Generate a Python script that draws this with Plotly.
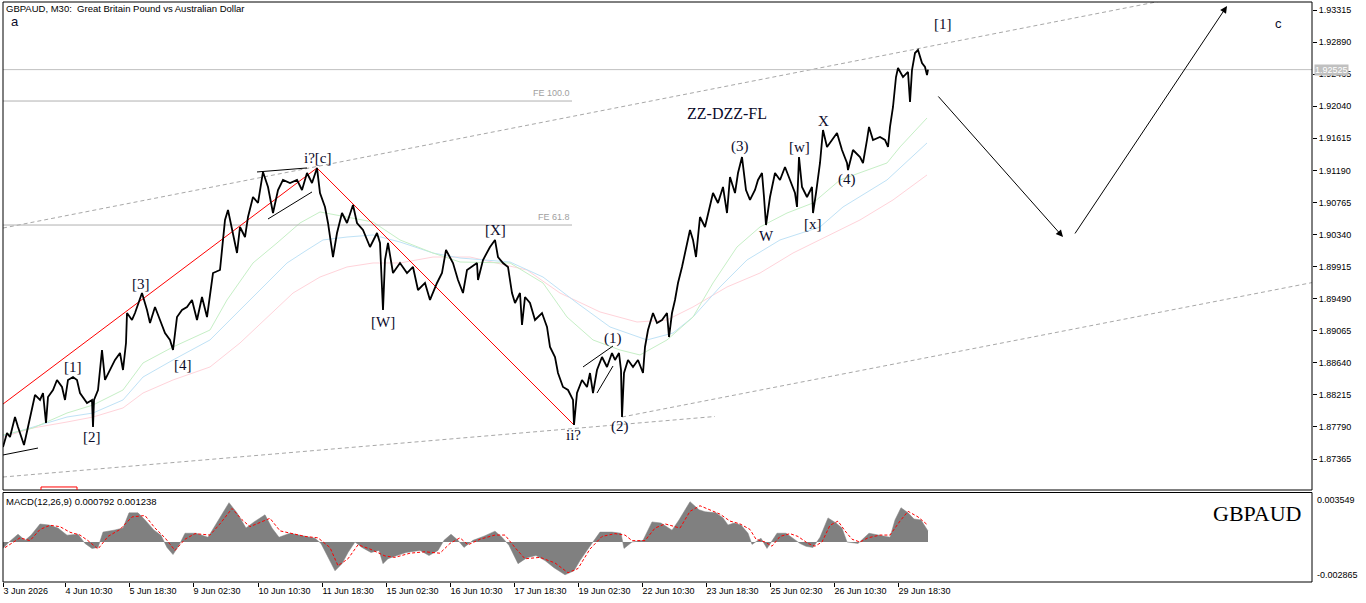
import plotly.graph_objects as go

# ---------------- data (bar index, prices) ----------------
bar_idx = [0,4,7,12,15,17,21,25,29,32,37,40,43,45,50,54,59,62,65,70,74,77,84,89,90,91,95,99,102,107,
           112,117,120,123,124,129,132,139,144,147,152,157,162,167,170,174,179,184,189,194,199,204,207,210,217,220,222,225,229,234,
           237,242,245,250,255,260,265,270,275,280,287,294,299,304,309,314,317,322,325,330,334,339,344,350,354,360,367,374,377,380,
           382,385,390,397,404,410,415,422,427,434,439,443,450,455,460,464,474,475,480,487,492,495,500,505,509,512,517,519,522,527,
           532,539,544,547,552,555,560,565,570,571,574,579,584,587,590,594,599,604,609,612,616,618,619,621,625,630,635,640,642,645,
           650,654,659,664,666,669,672,675,679,682,687,690,693,697,702,706,710,715,720,724,727,732,735,739,743,747,752,755,759,761,
           763,767,772,777,782,787,792,794,796,799,804,809,810,813,817,820,824,829,834,839,844,845,850,857,860,864,866,870,877,882,
           885,887,890,893,895,900,905,907,909,912,915,919,922,924,925]
close = [1.87525,1.87710,1.87657,1.87922,1.87790,1.87710,1.87551,1.87790,1.88055,1.88214,1.88148,1.88240,1.87843,1.88187,1.88280,1.88413,1.88320,1.88148,1.88413,1.88452,
         1.88413,1.88240,1.88108,1.88148,1.87790,1.88148,1.88280,1.88810,1.88413,1.88545,1.88678,1.88770,1.88545,1.88903,1.89300,1.89208,1.89300,1.89565,1.89340,1.89168,
         1.89380,1.89208,1.89035,1.88943,1.88810,1.89247,1.89340,1.89380,1.89473,1.89208,1.89512,1.89247,1.89512,1.89830,1.89870,1.90228,1.90533,1.90665,1.90400,1.90095,
         1.90440,1.90307,1.90572,1.90837,1.90758,1.91169,1.90970,1.90625,1.90930,1.91063,1.91023,1.91063,1.90930,1.91155,1.91023,1.91222,1.90890,1.90705,1.90493,1.90042,
         1.90360,1.90625,1.90493,1.90731,1.90493,1.90400,1.90175,1.90360,1.90228,1.89340,1.90003,1.90228,1.89830,1.89963,1.89830,1.89910,1.89605,1.89698,1.89473,1.89698,
         1.89830,1.90135,1.89963,1.89738,1.89565,1.89870,1.89963,1.89738,1.90003,1.90175,1.90268,1.90042,1.89963,1.89910,1.89565,1.89433,1.89565,1.89141,1.89512,1.89433,
         1.89208,1.89300,1.89115,1.88850,1.88717,1.88505,1.88320,1.88280,1.88148,1.87816,1.88240,1.88413,1.88320,1.88505,1.88240,1.88545,1.88717,1.88585,1.88770,1.88678,
         1.88770,1.88545,1.87922,1.88505,1.88678,1.88585,1.88678,1.88505,1.88850,1.89075,1.89300,1.89168,1.89208,1.89300,1.88982,1.89300,1.89473,1.89698,1.89910,1.90095,
         1.90400,1.90268,1.90042,1.90572,1.90440,1.90665,1.90890,1.90758,1.90970,1.90625,1.91102,1.90890,1.91155,1.91367,1.90930,1.90798,1.90930,1.91063,1.91155,1.90837,
         1.90466,1.90837,1.91155,1.91063,1.91235,1.91063,1.90890,1.90705,1.91367,1.90970,1.90837,1.90970,1.90625,1.90890,1.91288,1.91725,1.91500,1.91593,1.91685,1.91460,
         1.91288,1.91195,1.91460,1.91367,1.91288,1.91593,1.91765,1.91593,1.91632,1.91593,1.91500,1.91765,1.92030,1.92427,1.92547,1.92427,1.92494,1.92096,1.92520,1.92745,
         1.92785,1.92613,1.92560,1.92454,1.92525]
assert len(bar_idx) == len(close), (len(bar_idx), len(close))

green_idx = [0,30,64,90,120,140,170,207,224,250,274,297,317,344,370,397,430,457,507,540,564,590,617,637,664,690,710,734,757,784,810,837,857,884,897,924]
green_val = [1.87684,1.87777,1.87975,1.88081,1.88280,1.88638,1.88850,1.89075,1.89473,1.89963,1.90228,1.90493,1.90639,1.90572,1.90506,1.90268,1.90095,1.89976,
             1.89963,1.89698,1.89247,1.88943,1.88810,1.88744,1.88943,1.89247,1.89698,1.90175,1.90440,1.90625,1.90758,1.91063,1.91155,1.91288,1.91500,1.91884]
blue_idx = [0,30,64,90,120,140,170,207,230,257,284,304,320,344,370,397,430,457,507,540,574,607,644,670,690,717,744,777,817,840,884,924]
blue_val = [1.87671,1.87790,1.87922,1.87975,1.88148,1.88452,1.88678,1.88943,1.89247,1.89605,1.89963,1.90135,1.90268,1.90307,1.90334,1.90241,
            1.90095,1.90029,1.89976,1.89777,1.89433,1.89115,1.88943,1.89035,1.89247,1.89645,1.90003,1.90268,1.90440,1.90705,1.91063,1.91553]
pink_idx = [0,30,64,90,120,140,170,207,237,264,290,317,344,370,397,430,467,524,557,597,634,664,690,724,757,790,817,857,890,924]
pink_val = [1.87657,1.87777,1.87856,1.87922,1.88042,1.88240,1.88413,1.88585,1.88903,1.89247,1.89565,1.89777,1.89910,1.89963,1.89963,
            1.90042,1.90042,1.89870,1.89565,1.89314,1.89181,1.89208,1.89380,1.89645,1.89830,1.90095,1.90268,1.90533,1.90798,1.91129]

macd_idx = [0,6,15,22,28,37,46,55,64,75,82,89,95,100,111,120,126,135,142,151,158,164,170,176,182,193,205,214,220,226,234,243,251,262,269,276,287,301,312,318,
            325,332,339,345,352,359,368,376,380,385,394,403,417,426,435,441,448,455,461,470,481,492,499,506,515,524,533,542,551,562,571,577,586,597,609,618,621,629,640,649,
            658,669,676,687,696,702,713,720,725,731,738,745,749,758,764,774,783,792,797,803,810,817,825,833,839,844,855,866,878,887,892,898,905,911,918,925]
macd_val = [-0.00046,0.0,0.00056,0.00012,0.00049,0.00129,0.00122,0.00100,0.00049,0.00056,-0.00010,-0.00046,-0.00039,0.00071,0.00085,0.00100,0.00209,0.00209,0.00158,0.00085,
            0.00049,-0.00039,-0.00090,-0.00024,0.00063,0.00063,0.00034,0.00136,0.00209,0.00282,0.00209,0.00100,0.00144,0.00195,0.00100,0.00034,0.00063,0.00042,0.00027,-0.00010,
            -0.00112,-0.00206,-0.00155,-0.00075,0.0,-0.00039,-0.00075,-0.00060,-0.00155,-0.00119,-0.00097,-0.00075,-0.00060,-0.00097,-0.00060,0.00012,0.00056,0.00012,-0.00039,0.00012,
            0.00042,0.00078,0.00034,-0.00024,-0.00155,-0.00112,-0.00097,-0.00133,-0.00184,-0.00235,-0.00206,-0.00133,-0.00039,0.00071,0.00071,0.00063,-0.00046,0.0,0.00012,0.00144,
            0.00136,0.00085,0.00158,0.00289,0.00231,0.00217,0.00209,0.00173,0.00122,0.00136,0.00122,0.00063,-0.00017,0.00027,-0.00046,0.00063,0.00063,0.00012,-0.00010,-0.00031,
            -0.00039,0.00034,0.00173,0.00136,0.00100,0.0,-0.00010,0.00063,0.00049,0.00034,0.00158,0.00246,0.00209,0.00165,0.00158,0.00079]
assert len(macd_idx) == len(macd_val)
signal_idx = [2,17,27,37,47,57,67,77,85,95,105,117,129,142,152,162,172,182,192,207,217,229,239,247,257,267,277,289,302,315,327,335,345,355,367,382,392,407,422,437,
              447,457,465,477,492,502,512,522,537,552,565,575,587,599,612,622,629,642,652,662,677,687,697,707,717,727,737,747,753,762,769,777,787,795,805,812,819,827,835,842,
              849,857,865,877,887,897,905,915,925]
signal_val = [-0.0004,0.0003,0.0001,0.0009,0.0012,0.0011,0.0007,0.0005,0.0001,-0.0005,0.0004,0.0009,0.0018,0.0019,0.0010,0.0003,-0.0006,0.0002,0.0006,0.0005,
              0.0013,0.0024,0.0016,0.0011,0.0014,0.0017,0.0008,0.0006,0.0004,0.0003,-0.0004,-0.0017,-0.0012,-0.0002,-0.0005,-0.0010,-0.0011,-0.0008,-0.0007,-0.0008,
              -0.0001,0.0003,-0.0002,0.0002,0.0005,0.0005,-0.0004,-0.0012,-0.0011,-0.0015,-0.0022,-0.0019,-0.0005,0.0004,0.0006,0.0005,0.0001,0.0001,0.0010,0.0013,
              0.0010,0.0022,0.0026,0.0023,0.0020,0.0015,0.0013,0.0009,0.0002,0.0000,-0.0003,0.0004,0.0006,0.0004,-0.0001,-0.0003,0.0000,0.0012,0.0015,0.0008,
              0.0002,0.0000,0.0003,0.0005,0.0005,0.0015,0.0022,0.0018,0.0012]
assert len(signal_idx) == len(signal_val)

# axis ticks
x_tick_idx = [0,62,126,190,255,319,383,447,511,575,639,703,767,831,895]
x_tick_txt = ["3 Jun 2026","4 Jun 10:30","5 Jun 18:30","9 Jun 02:30","10 Jun 10:30","11 Jun 18:30","15 Jun 02:30",
              "16 Jun 10:30","17 Jun 18:30","19 Jun 02:30","22 Jun 10:30","23 Jun 18:30","25 Jun 02:30","26 Jun 10:30","29 Jun 18:30"]
y_tick_vals = [1.93315,1.92890,1.92465,1.92040,1.91615,1.91190,1.90765,1.90340,1.89915,1.89490,1.89065,1.88640,1.88215,1.87790,1.87365]
macd_max, macd_min = 0.003549, -0.002865
current_price = 1.92525

# analysis objects
red_path_idx = [0, 314, 571]
red_path_val = [1.88094, 1.91222, 1.87816]
upper_ch_idx, upper_ch_val = [0, 1309], [1.90426, 1.93826]
lower_ch_idx, lower_ch_val = [619, 1309], [1.87922, 1.89703]
short_ch_idx, short_ch_val = [0, 712], [1.87127, 1.87929]
fe_levels = [("FE 100.0", 1.92109), ("FE 61.8", 1.90466)]
fe_end_idx = 569
black_segments = [([0, 35], [1.87419, 1.87511]),
                  ([254, 304], [1.91169, 1.91222]),
                  ([265, 309], [1.90546, 1.90904]),
                  ([580, 610], [1.88585, 1.88863]),
                  ([594, 610], [1.88240, 1.88598])]
arrows = [((934, 1.92189), (1060, 1.90307)), ((1071, 1.90334), (1224, 1.93368))]
wave_labels = [("[1]", 70, 1.88585), ("[2]", 89, 1.87657), ("[3]", 138, 1.89685), ("[4]", 180, 1.88611),
               ("i?[c]", 314, 1.91354), ("[W]", 380, 1.89181), ("[X]", 492, 1.90400), ("ii?", 570, 1.87684),
               ("(1)", 610, 1.88969), ("(2)", 617, 1.87790), ("(3)", 737, 1.91513), ("W", 763, 1.90321),
               ("[w]", 796, 1.91500), ("[x]", 810, 1.90480), ("X", 820, 1.91844), ("(4)", 844, 1.91063),
               ("[1]", 940, 1.93130)]
pattern_label = ("ZZ-DZZ-FL", 724, 1.91950)
corner_labels = [("a", 12, 1.93169), ("c", 1275, 1.93130)]

# ---------------- figure ----------------
W, H = 1366, 603
top_px, bot_px, main_bot_px, macd_top_px = 2, 582, 490, 492.5
ph = bot_px - top_px
main_dom = [(bot_px - main_bot_px) / ph, 1.0]
macd_dom = [0.0, (bot_px - macd_top_px) / ph]

fig = go.Figure()
for xs, ys, col in [(pink_idx, pink_val, "#ffd3da"), (blue_idx, blue_val, "#bfe2f6"), (green_idx, green_val, "#c6efc6")]:
    fig.add_trace(go.Scatter(x=xs, y=ys, mode="lines", line=dict(color=col, width=1), hoverinfo="skip"))

for xs, ys in [(upper_ch_idx, upper_ch_val), (lower_ch_idx, lower_ch_val), (short_ch_idx, short_ch_val)]:
    fig.add_trace(go.Scatter(x=xs, y=ys, mode="lines", line=dict(color="#a8a8a8", width=1, dash="4px,3px"), hoverinfo="skip"))

for name, lvl in fe_levels:
    fig.add_trace(go.Scatter(x=[0, fe_end_idx], y=[lvl, lvl], mode="lines", line=dict(color="#b0b0b0", width=1), hoverinfo="skip"))
fig.add_trace(go.Scatter(x=[0, 1309], y=[current_price, current_price], mode="lines", line=dict(color="#c0c0c0", width=1), hoverinfo="skip"))

fig.add_trace(go.Scatter(x=red_path_idx, y=red_path_val, mode="lines", line=dict(color="#ff0000", width=1), hoverinfo="skip"))
for xs, ys in black_segments:
    fig.add_trace(go.Scatter(x=xs, y=ys, mode="lines", line=dict(color="black", width=1), hoverinfo="skip"))

fig.add_trace(go.Scatter(x=bar_idx, y=close, mode="lines", line=dict(color="black", width=1.8), hoverinfo="skip"))

fig.add_trace(go.Scatter(x=macd_idx, y=macd_val, mode="lines", fill="tozeroy", fillcolor="#808080",
                         line=dict(color="#808080", width=0.5), yaxis="y2", hoverinfo="skip"))
fig.add_trace(go.Scatter(x=signal_idx, y=signal_val, mode="lines", line=dict(color="#ff0000", width=1, dash="3px,2px"),
                         yaxis="y2", hoverinfo="skip"))

axfont = dict(family="Liberation Sans", size=9, color="black")
fig.update_layout(
    width=W, height=H, margin=dict(l=3, r=54, t=top_px, b=H - bot_px),
    paper_bgcolor="white", plot_bgcolor="white", showlegend=False,
    xaxis=dict(range=[0, 1309], anchor="y2", showgrid=False, zeroline=False, showline=False,
               tickmode="array", tickvals=x_tick_idx, ticktext=x_tick_txt, ticks="outside", ticklen=4,
               tickcolor="black", ticklabelposition="outside right", tickfont=axfont),
    yaxis=dict(domain=main_dom, range=[1.86955, 1.93421], side="right", anchor="x", showgrid=False,
               zeroline=False, showline=False, tickmode="array", tickvals=y_tick_vals,
               ticktext=["%.5f" % v for v in y_tick_vals], ticks="outside", ticklen=4, tickcolor="black",
               tickfont=axfont),
    yaxis2=dict(domain=macd_dom, range=[macd_min, macd_max], side="right", anchor="x", showgrid=False,
                zeroline=False, showline=False, showticklabels=False, ticks=""),
)

shapes = [
    dict(type="rect", xref="x domain", yref="y domain", x0=0, x1=1, y0=0, y1=1, line=dict(color="black", width=1)),
    dict(type="rect", xref="x domain", yref="y2 domain", x0=0, x1=1, y0=0, y1=1, line=dict(color="black", width=1)),
    dict(type="rect", xref="x", yref="y", x0=38, x1=74, y0=1.86995, y1=1.8690, line=dict(color="red", width=1)),
]
fig.update_layout(shapes=shapes)

lab_col = "#0b0b2b"
ann = []
for t, xi, yv in wave_labels:
    ann.append(dict(x=xi, y=yv, xref="x", yref="y", text=t, showarrow=False,
                    font=dict(family="Liberation Serif", size=15, color=lab_col)))
ann.append(dict(x=pattern_label[1], y=pattern_label[2], xref="x", yref="y", text=pattern_label[0], showarrow=False,
                font=dict(family="Liberation Serif", size=16, color=lab_col)))
for t, xi, yv in corner_labels:
    ann.append(dict(x=xi, y=yv, xref="x", yref="y", text=t, showarrow=False,
                    font=dict(family="Liberation Sans", size=13, color=lab_col)))
for name, lvl in fe_levels:
    ann.append(dict(x=fe_end_idx, y=lvl, xref="x", yref="y", text=name, showarrow=False, xanchor="right",
                    yanchor="bottom", yshift=1, font=dict(family="Liberation Sans", size=9, color="#a0a0a0")))
for (x0, y0), (x1, y1) in arrows:
    ann.append(dict(x=x1, y=y1, ax=x0, ay=y0, xref="x", yref="y", axref="x", ayref="y", text="",
                    showarrow=True, arrowhead=2, arrowsize=1.4, arrowwidth=1, arrowcolor="black"))
ann.append(dict(x=0, y=1, xref="x domain", yref="y domain", xanchor="left", yanchor="top", xshift=1, yshift=1,
                text="GBPAUD, M30:  Great Britain Pound vs Australian Dollar", showarrow=False,
                font=dict(family="Liberation Sans", size=9.5, color="black")))
ann.append(dict(x=0, y=1, xref="x domain", yref="y2 domain", xanchor="left", yanchor="top", xshift=1, yshift=-1,
                text="MACD(12,26,9) 0.000792 0.001238", showarrow=False,
                font=dict(family="Liberation Sans", size=9.5, color="black")))
ann.append(dict(x=0.958, y=0.77, xref="x domain", yref="y2 domain", xanchor="center", yanchor="middle",
                text="GBPAUD", showarrow=False,
                font=dict(family="Liberation Serif", size=22, color="black")))
ann.append(dict(x=1, y=1, xref="x domain", yref="y2 domain", xanchor="left", yanchor="top", xshift=3,
                text="%.6f" % macd_max, showarrow=False, font=axfont))
ann.append(dict(x=1, y=0, xref="x domain", yref="y2 domain", xanchor="left", yanchor="bottom", xshift=3,
                text="%.6f" % macd_min, showarrow=False, font=axfont))
ann.append(dict(x=1, y=current_price, xref="x domain", yref="y", xanchor="left", xshift=2,
                text="%.5f" % current_price, showarrow=False, bgcolor="#c0c0c0", borderpad=0,
                font=dict(family="Liberation Sans", size=9, color="white")))
fig.update_layout(annotations=ann)

fig.write_html("out.html")
